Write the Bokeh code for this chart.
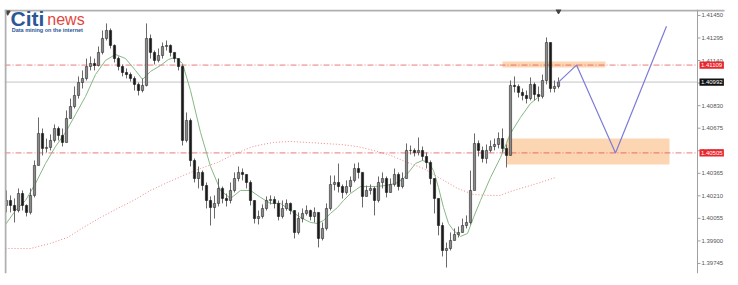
from bokeh.plotting import figure
from bokeh.models import Range1d, Span
from bokeh.core.properties import value
from bokeh.embed import file_html
from bokeh.resources import INLINE

# ---- candle data ----
first_open = 1.40144
close = [1.40178, 1.40144, 1.40109, 1.40226, 1.40144, 1.40096, 1.40213, 1.40419, 1.40639, 1.40536,
         1.40543, 1.40591, 1.40673, 1.40625, 1.40577, 1.40742, 1.40824, 1.40900, 1.40989, 1.41017,
         1.41099, 1.41120, 1.41106, 1.41196, 1.41292, 1.41347, 1.41244, 1.41154, 1.41099, 1.41058,
         1.41044, 1.41017, 1.40976, 1.40934, 1.40969, 1.41292, 1.41196, 1.41141, 1.41175, 1.41237,
         1.41244, 1.41196, 1.41154, 1.41099, 1.40591, 1.40728, 1.40453, 1.40329, 1.40371, 1.40281,
         1.40178, 1.40130, 1.40158, 1.40261, 1.40192, 1.40178, 1.40247, 1.40329, 1.40371, 1.40357,
         1.40302, 1.40178, 1.40054, 1.40068, 1.40123, 1.40178, 1.40185, 1.40158, 1.40068, 1.40123,
         1.40158, 1.40109, 1.39958, 1.40054, 1.40089, 1.40109, 1.40068, 1.40096, 1.39917, 1.39986,
         1.40123, 1.40288, 1.40302, 1.40274, 1.40233, 1.40274, 1.40316, 1.40398, 1.40371, 1.40206,
         1.40247, 1.40261, 1.40178, 1.40302, 1.40329, 1.40233, 1.40288, 1.40357, 1.40274, 1.40329,
         1.40522, 1.40522, 1.40508, 1.40522, 1.40481, 1.40439, 1.40329, 1.40192, 1.40006, 1.39834,
         1.39848, 1.39903, 1.39944, 1.39958, 1.40006, 1.40027, 1.40247, 1.40570, 1.40522, 1.40467,
         1.40522, 1.40549, 1.40563, 1.40604, 1.40536, 1.40488, 1.40969, 1.40962, 1.40921, 1.40900,
         1.40879, 1.40976, 1.40907, 1.40893, 1.41003, 1.41264, 1.40948, 1.40962, 1.40992]
high = [1.40247, 1.40213, 1.40192, 1.40261, 1.40247, 1.40151, 1.40261, 1.40453, 1.40749, 1.40673,
        1.40604, 1.40632, 1.40701, 1.40687, 1.40673, 1.40797, 1.40879, 1.40962, 1.41031, 1.41072,
        1.41154, 1.41168, 1.41154, 1.41237, 1.41347, 1.41395, 1.41361, 1.41251, 1.41168, 1.41113,
        1.41086, 1.41058, 1.41031, 1.40989, 1.41017, 1.41395, 1.41319, 1.41209, 1.41223, 1.41264,
        1.41278, 1.41251, 1.41196, 1.41154, 1.41113, 1.40783, 1.40742, 1.40467, 1.40412, 1.40384,
        1.40302, 1.40206, 1.40213, 1.40329, 1.40274, 1.40226, 1.40302, 1.40371, 1.40412, 1.40398,
        1.40357, 1.40316, 1.40178, 1.40109, 1.40151, 1.40206, 1.40213, 1.40206, 1.40178, 1.40178,
        1.40185, 1.40164, 1.40109, 1.40096, 1.40123, 1.40144, 1.40116, 1.40130, 1.40096, 1.40027,
        1.40158, 1.40350, 1.40350, 1.40432, 1.40288, 1.40316, 1.40343, 1.40432, 1.40439, 1.40371,
        1.40281, 1.40288, 1.40274, 1.40343, 1.40371, 1.40343, 1.40329, 1.40398, 1.40371, 1.40371,
        1.40570, 1.40556, 1.40536, 1.40611, 1.40549, 1.40508, 1.40453, 1.40329, 1.40192, 1.40027,
        1.39889, 1.39958, 1.39986, 1.39999, 1.40054, 1.40075, 1.40384, 1.40639, 1.40591, 1.40549,
        1.40563, 1.40591, 1.40604, 1.40646, 1.40673, 1.40563, 1.41003, 1.41031, 1.40976, 1.40948,
        1.40934, 1.41024, 1.40989, 1.40962, 1.41044, 1.41299, 1.41264, 1.41003, 1.41024]
low = [1.40096, 1.40096, 1.40027, 1.40096, 1.40109, 1.40068, 1.40082, 1.40199, 1.40419, 1.40488,
       1.40508, 1.40522, 1.40577, 1.40591, 1.40549, 1.40577, 1.40742, 1.40811, 1.40879, 1.40948,
       1.41003, 1.41072, 1.41072, 1.41099, 1.41182, 1.41278, 1.41223, 1.41127, 1.41072, 1.41031,
       1.41017, 1.40996, 1.40934, 1.40900, 1.40921, 1.40962, 1.41154, 1.41113, 1.41127, 1.41154,
       1.41209, 1.41168, 1.41127, 1.41072, 1.40556, 1.40577, 1.40412, 1.40302, 1.40261, 1.40247,
       1.40123, 1.40006, 1.40054, 1.40137, 1.40158, 1.40137, 1.40158, 1.40233, 1.40309, 1.40316,
       1.40261, 1.40144, 1.40020, 1.40013, 1.40054, 1.40109, 1.40151, 1.40123, 1.40041, 1.40054,
       1.40109, 1.40082, 1.39917, 1.39944, 1.40027, 1.40075, 1.40041, 1.40027, 1.39855, 1.39903,
       1.39972, 1.40109, 1.40247, 1.40233, 1.40192, 1.40219, 1.40233, 1.40302, 1.40329, 1.40130,
       1.40206, 1.40219, 1.40075, 1.40164, 1.40261, 1.40199, 1.40233, 1.40274, 1.40247, 1.40261,
       1.40329, 1.40494, 1.40481, 1.40488, 1.40453, 1.40398, 1.40288, 1.40089, 1.39938, 1.39793,
       1.39717, 1.39834, 1.39903, 1.39924, 1.39958, 1.39986, 1.40013, 1.40247, 1.40481, 1.40439,
       1.40432, 1.40508, 1.40522, 1.40536, 1.40508, 1.40405, 1.40488, 1.40921, 1.40886, 1.40866,
       1.40845, 1.40866, 1.40866, 1.40859, 1.40879, 1.40976, 1.40921, 1.40921, 1.40948]

# fast moving average (green)
ma_fast_x = [-0.25, 2.25, 4.75, 7.25, 9.75, 12.25, 14.75, 17.25, 19.75, 22.25, 24.75, 27.25, 29.75,
             32.25, 34, 36, 38.5, 40.5, 42.25, 44, 46, 48.5, 51, 53.5, 56, 58.5, 61, 63.5, 66, 68.5,
             71, 73.5, 76, 77.75, 79.25, 81, 82.75, 84.25, 86, 88.5, 92.25, 94.75, 97.25, 99.25,
             100.5, 102.25, 104, 105.5, 106.75, 108, 109.25, 110.5, 111.75, 113.5, 115.25, 116.75,
             118.5, 121, 123.5, 126, 128.5, 131, 133.5]
ma_fast_y = [1.40013, 1.40109, 1.40178, 1.40295, 1.40432, 1.40549, 1.40646, 1.40769, 1.40893, 1.41044,
             1.41141, 1.41182, 1.41154, 1.41072, 1.41010, 1.41065, 1.41106, 1.41148, 1.41161, 1.41120,
             1.40934, 1.40646, 1.40412, 1.40247, 1.40192, 1.40247, 1.40247, 1.40199, 1.40158, 1.40158,
             1.40109, 1.40061, 1.40027, 1.40020, 1.40041, 1.40089, 1.40130, 1.40178, 1.40226, 1.40274,
             1.40274, 1.40281, 1.40295, 1.40329, 1.40371, 1.40432, 1.40453, 1.40439, 1.40384, 1.40267,
             1.40130, 1.40020, 1.39972, 1.39931, 1.39951, 1.40061, 1.40178, 1.40336, 1.40474, 1.40639,
             1.40749, 1.40845, 1.40900]

# slow moving average (pink dotted)
ma_slow_x = [-0.25, 6, 11, 15.25, 19.25, 23.5, 27.75, 31.75, 36, 40.25, 44.25, 48.5, 52.75, 56.75,
             61, 62.75, 66.75, 71, 75.25, 79.25, 83.5, 87.75, 91.75, 96, 100.25, 104.25, 108.5,
             112.75, 116.75, 120.25, 123.5, 125.25, 129.25, 133.5, 137.25]
ma_slow_y = [1.39848, 1.39848, 1.39883, 1.39924, 1.39993, 1.40061, 1.40123, 1.40178, 1.40247, 1.40302,
             1.40350, 1.40398, 1.40439, 1.40494, 1.40543, 1.40556, 1.40577, 1.40584, 1.40577, 1.40570,
             1.40563, 1.40549, 1.40522, 1.40488, 1.40439, 1.40398, 1.40329, 1.40261, 1.40219, 1.40213,
             1.40213, 1.40233, 1.40267, 1.40302, 1.40336]

# levels, zones and projected path
resistance = 1.41109
support = 1.40505
current_price = 1.40992
top_zone = (124, 149.75, 1.41093, 1.41134)
bottom_zone = (125, 165.75, 1.40426, 1.40604)
proj_x = [138, 142.5, 152.25, 165]
proj_y = [1.40992, 1.41109, 1.40505, 1.41376]

tick_vals = [1.41450, 1.41295, 1.41140, 1.40985, 1.40830, 1.40675, 1.40520,
             1.40365, 1.40210, 1.40055, 1.39900, 1.39745]
tick_labels = ["1.41450", "1.41295", "1.41140", "", "1.40830", "1.40675", "1.40520",
               "1.40365", "1.40210", "1.40055", "1.39900", "1.39745"]
tag_vals = [resistance, current_price, support]
tag_labels = ["1.41109", "1.40992", "1.40505"]
tag_colors = ["#e8262b", "#111111", "#e8262b"]

n = len(close)
xs = list(range(n))
opens = [first_open] + close[:-1]

Y0, Y1 = 1.39676, 1.41491
AXIS_X = 172.75          # price-scale position (right edge of the chart area)

p = figure(width=738, height=285, output_backend="svg", toolbar_location=None,
           x_range=Range1d(-0.5, 183), y_range=Range1d(Y0, Y1),
           min_border_left=4, min_border_top=9, min_border_right=0, min_border_bottom=12)
p.axis.visible = False
p.grid.visible = False
p.outline_line_color = None
p.background_fill_color = "white"
p.border_fill_color = "white"

# frame borders
p.segment(x0=[-0.5], x1=[179.5], y0=[1.41484], y1=[1.41484], line_color="#b0b0b0", line_width=2)
p.add_layout(Span(location=-0.25, dimension="height", line_color="#b0b0b0", line_width=2))
p.add_layout(Span(location=AXIS_X, dimension="height", line_color="#a0a0a0", line_width=1))

# zones
p.quad(left=[top_zone[0], bottom_zone[0]], right=[top_zone[1], bottom_zone[1]],
       bottom=[top_zone[2], bottom_zone[2]], top=[top_zone[3], bottom_zone[3]],
       fill_color="#fbcfa6", fill_alpha=0.85, line_color=None)

# horizontal levels
p.segment(x0=[-0.5], x1=[AXIS_X], y0=[current_price], y1=[current_price],
          line_color="#c4c4c4", line_width=1)
p.segment(x0=[-0.5, -0.5], x1=[AXIS_X, AXIS_X], y0=[resistance, support], y1=[resistance, support],
          line_color="#e03a3a", line_width=0.8, line_dash="6 2 1 2", line_alpha=0.85)

# moving averages
p.line(ma_slow_x, ma_slow_y, line_color="#f07a7a", line_width=1, line_dash="1 2", line_alpha=0.9)
p.line(ma_fast_x, ma_fast_y, line_color="#86b886", line_width=1)

# candles
p.segment(x0=xs, x1=xs, y0=low, y1=high, line_color="#6a6a6a", line_width=1)
up = [c >= o for o, c in zip(opens, close)]
tops = [max(o, c) for o, c in zip(opens, close)]
bots = [min(o, c) for o, c in zip(opens, close)]
up_x = [x for x, u in zip(xs, up) if u]
dn_x = [x for x, u in zip(xs, up) if not u]
p.vbar(x=up_x, width=0.55, top=[t for t, u in zip(tops, up) if u], bottom=[b for b, u in zip(bots, up) if u],
       fill_color="#8a8a8a", line_color="#2a2a2a", line_width=0.6)
p.vbar(x=dn_x, width=0.55, top=[t for t, u in zip(tops, up) if not u], bottom=[b for b, u in zip(bots, up) if not u],
       fill_color="#1a1a1a", line_color="#1a1a1a", line_width=0.6)

# projected path
p.line(proj_x, proj_y, line_color="#7c7cd8", line_width=1.2)

# small markers
p.scatter([0.3, 138], [1.41471, 1.41480], marker="inverted_triangle", size=5, color="#444444")

# price scale: ticks and labels
p.segment(x0=[AXIS_X] * len(tick_vals), x1=[AXIS_X + 0.75] * len(tick_vals),
          y0=tick_vals, y1=tick_vals, line_color="#a0a0a0", line_width=1)
p.text(x=[AXIS_X + 1.0] * len(tick_vals), y=tick_vals, text=tick_labels,
       text_font=value("Liberation Sans"), text_font_size="6px", text_color="#555555",
       text_baseline="middle", text_align="left")

# price tags
p.quad(left=[AXIS_X + 0.5] * 3, right=[AXIS_X + 6.6] * 3,
       bottom=[v - 0.00025 for v in tag_vals], top=[v + 0.00025 for v in tag_vals],
       fill_color=tag_colors, line_color=None)
p.text(x=[AXIS_X + 0.85] * 3, y=tag_vals, text=tag_labels,
       text_font=value("Liberation Sans"), text_font_size="6px", text_color="white",
       text_baseline="middle", text_align="left")

# logo
p.text(x=[1.0], y=[1.41429], text=["Citi"], text_font=value("Liberation Sans"),
       text_font_size="21px", text_font_style="bold", text_color="#2b5797",
       text_baseline="middle", text_align="left")
p.text(x=[10.2], y=[1.41420], text=["news"], text_font=value("Liberation Sans"),
       text_font_size="16px", text_color="#e2473f", text_baseline="middle", text_align="left")
p.text(x=[1.3], y=[1.41349], text=["Data mining on the internet"], text_font=value("Liberation Sans"),
       text_font_size="5.5px", text_font_style="bold", text_color="#2b5797",
       text_baseline="middle", text_align="left")

open("out.html", "w").write(file_html(p, INLINE))
